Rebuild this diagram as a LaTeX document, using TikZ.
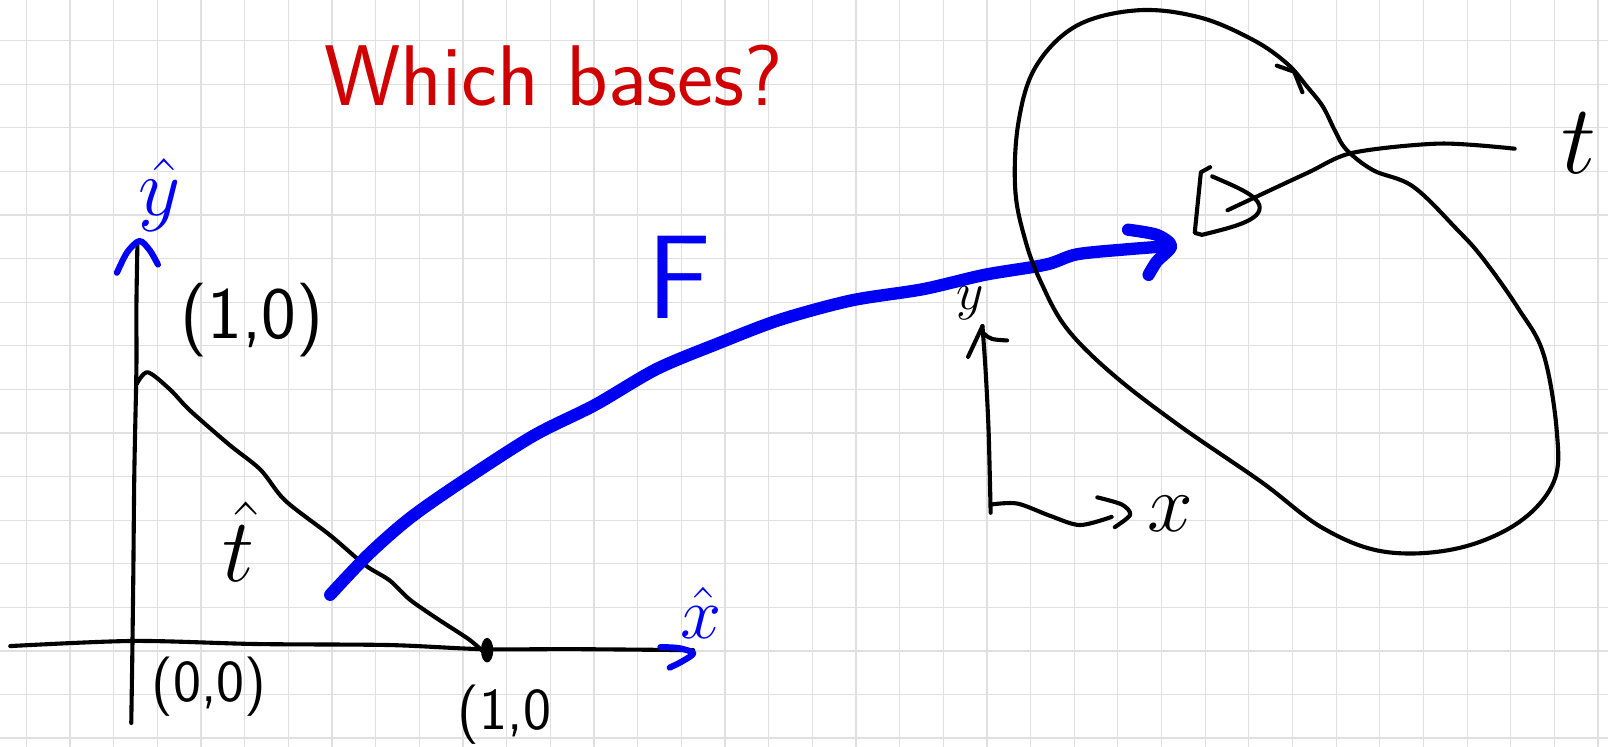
\RequirePackage{fix-cm}
\documentclass[tikz,border=0pt]{standalone}
\usepackage{amsmath}
\definecolor{penred}{RGB}{208,0,0}
\definecolor{penblue}{RGB}{0,0,245}
\definecolor{gridgray}{RGB}{224,224,224}
\newcommand{\fs}[1]{\fontsize{#1}{#1}\selectfont}
\begin{document}
\begin{tikzpicture}[x=0.5pt,y=-0.5pt,
  ink/.style={line width=2pt,line cap=round,line join=round,draw=black},
  blueink/.style={line width=3pt,line cap=round,line join=round,draw=penblue},
  fat/.style={line width=6pt,draw=penblue,line cap=round,line join=round},
  lbl/.style={inner sep=0pt,outer sep=0pt},
  gridline/.style={draw=gridgray,line width=0.6pt}]
\useasboundingbox (0,0) rectangle (1568,728);
\fill[white] (0,0) rectangle (1568,728);
\foreach \i in {0,...,36} \draw[gridline] ({25.8+42.57*\i},0) -- ({25.8+42.57*\i},728);
\foreach \j in {0,...,16} \draw[gridline] (0,{39.7+42.5*\j}) -- (1568,{39.7+42.5*\j});

% title
\node[lbl,text=penred] (title) at (540,74) {\fs{42}\sffamily Which bases?};

% left axes
\draw[ink] plot[smooth] coordinates {(128,705) (129,640) (130,560) (131,460) (133,360) (133,300) (134,238)};
\draw[ink] plot[smooth] coordinates {(10,630) (130,625) (250,628) (380,629) (470,633) (560,633) (676,634)};
\draw[blueink] plot[smooth] coordinates {(114,266) (124,246) (136,235) (146,244) (154,258)};
\draw[blueink] plot[smooth] coordinates {(644,631) (662,632) (676,637) (665,645) (653,651)};
\node[lbl,text=penblue] (yhat) at (156,190) {\fs{40}$\hat{y}$};
\node[lbl,text=penblue] (xhat) at (684,598) {\fs{36}$\hat{x}$};

% diagonal
\draw[ink] plot[smooth] coordinates {(133,375) (144,363) (166,380) (185,400) (224,434) (254,458) (278,488) (322,522) (356,551) (380,566) (400,585) (429,605) (458,624) (475,639)};
\fill (475,634) ellipse (3pt and 6pt);

\node[lbl] (p10top) at (246,312) {\fs{36}\sffamily (1,0)};
\node[lbl] (p00) at (204,670) {\fs{29}\sffamily (0,0)};
\node[lbl] (p10bot) at (492,697) {\fs{29}\sffamily (1,0};
\node[lbl] (that) at (233,528) {\fs{44}$\hat{t}$};

% F map
\draw[fat] plot[smooth] coordinates {(322,580) (360,540) (400,505) (450,470) (520,425) (580,395) (640,360) (700,335) (760,312) (830,293) (900,282) (960,268) (1020,258) (1050,248) (1100,243) (1140,240)};
\draw[fat] plot[smooth] coordinates {(1100,224) (1128,229) (1142,240) (1128,255) (1120,268)};
\node[lbl,text=penblue] (F) at (662,270) {\fs{58}\sffamily F};

% right axes
\draw[ink] plot[smooth] coordinates {(966,500) (964,420) (961,360) (958,318)};
\draw[ink] (958,318) -- (944,348);
\draw[ink] (959,325) .. controls (966,331) .. (982,332);
\node[lbl,anchor=base] (ylab) at (946,302) {\fs{26}$y$};
\draw[ink] plot[smooth] coordinates {(966,492) (992,491) (1024,503) (1053,512) (1084,504)};
\draw[ink] plot[smooth] coordinates {(1070,485) (1094,492) (1102,502) (1087,514)};
\node[lbl] (xlab) at (1141,501) {\fs{40}$x$};

% loop
\draw[ink] plot[smooth cycle, tension=0.6] coordinates {(1110,10) (1170,17) (1222,39) (1255,62) (1275,85) (1290,104) (1302,128) (1313,146) (1339,166) (1378,182) (1421,224) (1446,252) (1480,300) (1505,345) (1518,420) (1515,470) (1480,510) (1420,535) (1350,538) (1290,515) (1230,470) (1150,415) (1085,365) (1040,320) (1015,275) (1000,235) (990,185) (993,120) (1010,65) (1050,25)};
\draw[ink] (1245,64) -- (1262,70) -- (1270,90);

% curve with open tip
\draw[ink] plot[smooth] coordinates {(1477,145) (1404,140) (1319,149) (1274,169) (1197,205)};
\draw[ink] (1180,163) -- (1171,168) -- (1165,227) -- (1172,229) .. controls (1200,222) and (1232,215) .. (1228,200) .. controls (1225,190) and (1205,182) .. (1182,172);
\node[lbl] (tlab) at (1540,140) {\fs{48}$t$};
\end{tikzpicture}
\end{document}
